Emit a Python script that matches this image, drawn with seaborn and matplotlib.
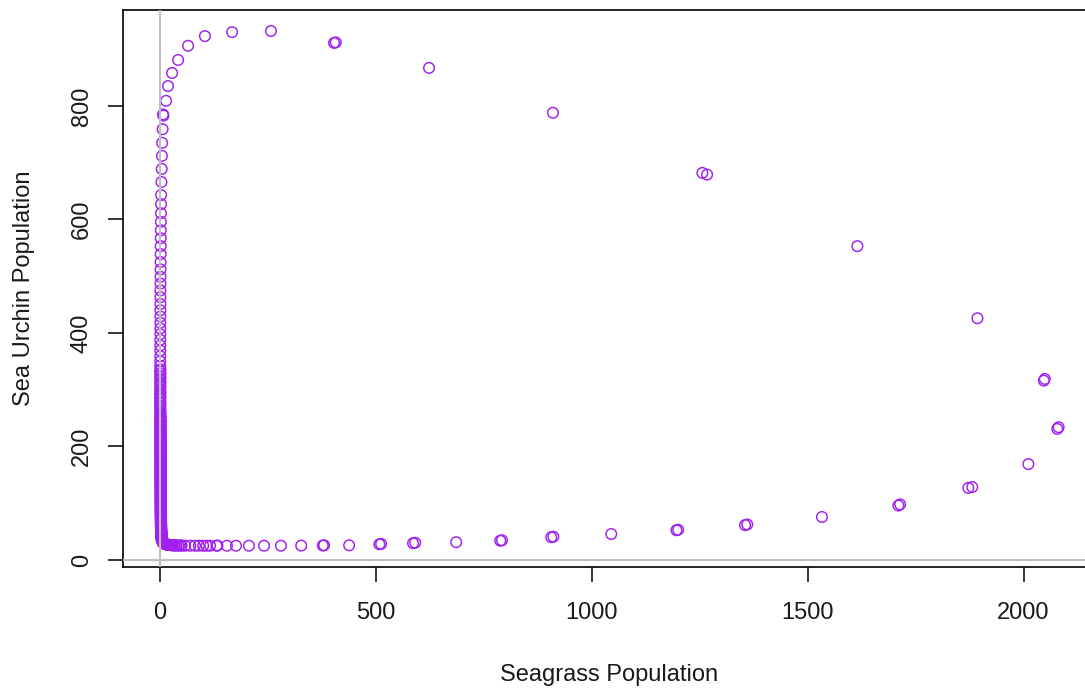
import matplotlib
matplotlib.use("Agg")
import matplotlib.pyplot as plt
import seaborn as sns
import pandas as pd

# ---- data (trajectory order) ----
# outer loop: bottom row -> right side -> top arc -> start of left strip
outer_seagrass = [
    58, 70, 81, 90, 100, 108, 116, 131, 133, 155, 176, 206, 241, 280, 327,
    377, 380, 438, 508, 512, 586, 591, 686, 788, 792, 906, 911, 1045,
    1196, 1200, 1355, 1360, 1533, 1710, 1714, 1872, 1881, 2011, 2078, 2081,
    2047, 2049, 1893, 1615, 1256, 1267, 910, 623, 403, 407, 257, 167, 104,
    65, 42, 28, 18.5, 14, 7, 8, 6, 5, 4.5, 4, 3.3,
]
outer_urchins = [
    25.2, 25.2, 25.2, 25.2, 25.2, 25.2, 25.2, 25.2, 25.5, 25.2, 25.2, 25.2, 25.2, 25.2, 25.4,
    25.6, 26.0, 25.9, 27.8, 28.4, 29.6, 30.4, 31.4, 34.0, 34.8, 40.2, 41.0, 45.8,
    52.5, 53.3, 61.5, 62.6, 75.8, 96.0, 98.0, 127.0, 128.6, 169.0, 231.0, 234.0,
    316.0, 319.0, 426.0, 553.0, 682.0, 679.0, 788.0, 867.0, 911.0, 912.0, 932.0, 930.0, 923.0,
    906.0, 881.0, 858.0, 835.0, 809.0, 785.0, 783.0, 759.0, 735.0, 712.0, 689.0, 666.0,
]

# dense left strip, first pass (seagrass near zero while urchins decline)
strip_seagrass = [
    2.6, 2.4, 2.2, 2.0, 1.8, 1.7, 1.6, 1.5, 1.4, 1.3,
    1.2, 1.1, 1.0, 0.9, 0.9, 0.8, 0.8, 0.7, 0.7, 0.7,
    0.6, 0.6, 0.6, 0.6, 0.5, 0.5, 0.5, 0.5, 0.5, 0.5,
    0.5, 0.5, 0.5, 0.5, 0.5, 0.5, 0.5, 0.5, 0.5, 0.5,
    0.5, 0.5, 0.5, 0.6, 0.6, 0.6, 0.6, 0.6, 0.7, 0.7,
    0.7, 0.7, 0.8, 0.8, 0.8, 0.9, 0.9, 0.9, 1.0, 1.0,
    1.0, 1.1, 1.1, 1.1, 1.2, 1.2, 1.2, 1.3, 1.3, 1.3,
    1.4, 1.4, 1.4, 1.5, 1.5, 1.5, 1.6, 1.6, 1.6, 1.7,
    1.7, 1.7, 1.8, 1.8, 1.8, 1.9, 1.9, 1.9, 2.0, 2.0,
    2.0, 2.0, 2.1, 2.1, 2.1, 2.2, 2.2, 2.2, 2.3, 2.3,
    2.3, 2.4, 2.4, 2.5, 2.5, 2.6, 2.6, 2.7, 2.8, 2.9, 3.0,
]
strip_urchins = [
    643, 627, 611, 596, 581, 567, 553, 539, 525, 512,
    499, 487, 475, 463, 451, 440, 429, 418, 408, 398,
    388, 378, 369, 359, 350, 342, 333, 325, 317, 309,
    301, 294, 286, 279, 272, 265, 259, 252, 246, 240,
    234, 228, 222, 217, 211, 206, 201, 196, 191, 186,
    182, 177, 173, 168, 164, 160, 156, 152, 148, 145,
    141, 138, 134, 131, 128, 124, 121, 118, 115, 112,
    110, 107, 104, 102, 99, 97, 94, 92, 90, 87,
    85, 83, 81, 79, 77, 75, 73, 71, 70, 68,
    66, 64, 63, 61, 60, 58, 57, 55, 54, 52,
    51, 50, 48, 47, 46, 45, 44, 43, 42, 41, 40,
]

# dense left strip, second pass (lower part, where the strip looks solid)
strip2_seagrass = [
    1.0, 1.0, 1.0, 1.0, 1.0, 1.0, 1.0, 1.0, 1.0, 1.0,
    1.1, 1.1, 1.1, 1.1, 1.1, 1.2, 1.2, 1.2, 1.2, 1.2,
    1.3, 1.3, 1.3, 1.3, 1.3, 1.4, 1.4, 1.4, 1.4, 1.4,
    1.5, 1.5, 1.5, 1.5, 1.5, 1.6, 1.6, 1.6, 1.6, 1.6,
    1.7, 1.7, 1.7, 1.7, 1.7, 1.8, 1.8, 1.8, 1.8, 1.8,
    1.9, 1.9, 1.9, 1.9, 1.9, 2.0, 2.0, 2.0, 2.0, 2.0,
    2.1, 2.1, 2.1, 2.1, 2.2, 2.2, 2.2, 2.3, 2.3, 2.3,
    2.4, 2.4, 2.5, 2.5, 2.6, 2.6, 2.7, 2.7, 2.8, 2.9,
    3.0, 3.1, 3.2, 3.3, 3.4, 3.5, 3.6,
]
strip2_urchins = [
    336, 329, 321, 313, 305, 297, 290, 283, 276, 269,
    262, 256, 249, 243, 237, 231, 225, 220, 214, 209,
    204, 199, 194, 189, 184, 180, 175, 171, 166, 162,
    158, 154, 150, 147, 143, 140, 136, 133, 130, 126,
    123, 120, 117, 114, 111, 108, 106, 103, 100, 98,
    95, 93, 91, 88, 86, 84, 82, 80, 78, 76,
    74, 72, 70.5, 69, 67, 65, 63.5, 62, 60.5, 59,
    57.5, 56, 54.5, 53, 51.5, 50.5, 49, 48, 46.5, 45.5,
    44.5, 43.5, 42.5, 41.5, 40.5, 39.5, 38.5,
]

# dense left strip, third pass
strip3_seagrass = [
    2.0, 2.0, 2.0, 2.0, 2.0, 2.0, 2.0, 2.0, 2.0, 2.0,
    2.1, 2.1, 2.1, 2.1, 2.1, 2.1, 2.1, 2.1, 2.1, 2.1,
    2.2, 2.2, 2.2, 2.2, 2.2, 2.2, 2.2, 2.2, 2.2, 2.2,
    2.3, 2.3, 2.3, 2.3, 2.3, 2.3, 2.3, 2.3, 2.3, 2.3,
    2.4, 2.4, 2.4, 2.4, 2.4, 2.5, 2.5, 2.5, 2.5, 2.5,
    2.6, 2.6, 2.6, 2.7, 2.7, 2.7, 2.8, 2.8, 2.9, 2.9,
    3.0, 3.1, 3.2, 3.3, 3.4, 3.5, 3.6, 3.8, 4.0, 4.2,
    4.4,
]
strip3_urchins = [
    252, 244, 236, 229, 222, 215, 209, 203, 197, 191,
    186, 181, 176, 171, 166, 162, 157, 153, 149, 145,
    141, 137, 134, 130, 127, 123, 120, 117, 114, 111,
    108, 105, 102, 99, 97, 94, 92, 89, 87, 85,
    83, 81, 79, 77, 75, 73, 71, 69, 67.5, 66,
    64, 62.5, 61, 59.5, 58, 56.5, 55, 53.5, 52, 51,
    49.5, 48.5, 47, 46, 45, 44, 43, 42, 41, 40,
    39,
]

# bottom-left corner where the strip turns to the right
corner_seagrass = [3.5, 4, 5, 6, 7, 8.5, 10, 12, 14, 16, 19, 22, 25, 29, 33, 38, 44, 50]
corner_urchins = [37, 35, 33, 31.5, 30, 29, 28.5, 28, 27.5, 27, 26.5, 26.5, 26, 26, 25.5, 25.5, 25.5, 25.5]
corner2_seagrass = [4.5, 5, 5.5, 6, 7, 8, 9, 10, 11.5, 13, 15, 17, 19.5, 22, 25, 29, 33, 38, 43, 49]
corner2_urchins = [38.5, 36.5, 34.5, 33, 31.5, 30.5, 29.5, 29, 28.5, 28, 27.5, 27, 27, 26.5, 26.5, 26, 26, 26, 25.8, 25.6]

x_ticks = [0, 500, 1000, 1500, 2000]
y_ticks = [0, 200, 400, 600, 800]
x_title = "Seagrass Population"
y_title = "Sea Urchin Population"

df = pd.DataFrame({
    "seagrass": (outer_seagrass + strip_seagrass + strip2_seagrass
                 + strip3_seagrass + corner_seagrass + corner2_seagrass),
    "urchins": (outer_urchins + strip_urchins + strip2_urchins
                + strip3_urchins + corner_urchins + corner2_urchins),
})

sns.set_theme(style="ticks")
plt.rcParams["font.family"] = ["Liberation Sans", "DejaVu Sans"]

W, H = 1085, 688
fig = plt.figure(figsize=(W / 100, H / 100), dpi=100)
left, right, top, bottom = 123.3, 1094.0, 10.0, 567.0
ax = fig.add_axes([left / W, 1 - bottom / H, (right - left) / W, (bottom - top) / H])

sns.scatterplot(data=df, x="seagrass", y="urchins", ax=ax, s=58,
                facecolor="none", edgecolor="#A020F0", linewidth=1.05,
                zorder=2, legend=False)
for c in ax.collections:
    c.set_facecolor("none")

ax.axhline(0, color="#BEBEBE", lw=1.5, zorder=3)
ax.axvline(0, color="#BEBEBE", lw=1.5, zorder=3)

ax.set_xlim(-85, 2163)
ax.set_ylim(-12.3, 969)
ax.set_xticks(x_ticks)
ax.set_yticks(y_ticks)
ax.set_xticklabels([str(t) for t in x_ticks])
ax.set_yticklabels([str(t) for t in y_ticks], rotation=90, va="center")

for s in ax.spines.values():
    s.set_color("black")
    s.set_linewidth(1.2)
    s.set_visible(True)

ax.tick_params(axis="both", direction="out", length=11, width=1.1,
               color="black", labelsize=17, labelcolor="#1a1a1a")
ax.tick_params(axis="x", pad=14)
ax.tick_params(axis="y", pad=11)

ax.set_xlabel(x_title, fontsize=17, color="#1a1a1a", labelpad=29)
ax.set_ylabel(y_title, fontsize=17, color="#1a1a1a", labelpad=25.5)
ax.grid(False)

fig.savefig("out.png", dpi=100)
